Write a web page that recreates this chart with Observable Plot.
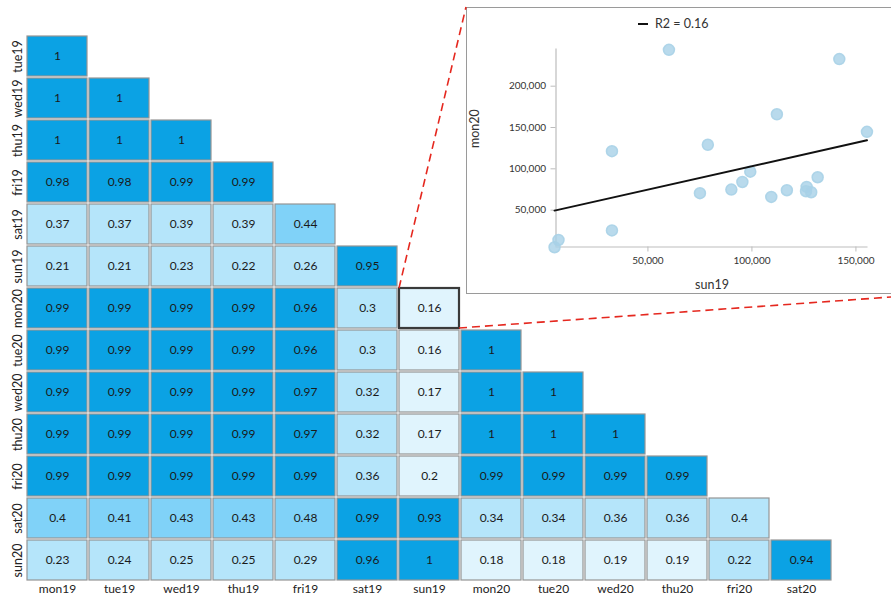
<!DOCTYPE html>
<html><head><meta charset="utf-8">
<script src="https://cdn.jsdelivr.net/npm/d3@7"></script>
<script src="https://cdn.jsdelivr.net/npm/@observablehq/plot@0.6"></script>
<style>
html,body{margin:0;padding:0;background:#fff;overflow:hidden;}
#wrap{position:relative;width:891px;height:599px;overflow:hidden;font-family:Lato,"DejaVu Sans",sans-serif;}
#wrap > svg{position:absolute;left:0;top:0;}
#inset{position:absolute;left:466px;top:7px;width:467px;height:287px;box-sizing:border-box;border:1.5px solid #9a9a9a;background:#fff;}
#inset svg{position:absolute;left:0;top:0;}
#legend{position:absolute;left:171px;top:7px;font-size:12.5px;color:#333;display:flex;align-items:center;line-height:17px;}
#legend .sw{display:inline-block;width:10px;height:2px;background:#111;margin-right:7px;}
svg.overlay{position:absolute;left:0;top:0;pointer-events:none;}
</style></head>
<body><div id="wrap"></div>
<script>
// ---- data ----
const cols = ["mon19","tue19","wed19","thu19","fri19","sat19","sun19","mon20","tue20","wed20","thu20","fri20","sat20"];
const rows = ["tue19","wed19","thu19","fri19","sat19","sun19","mon20","tue20","wed20","thu20","fri20","sat20","sun20"];
const values = [
  [1],
  [1, 1],
  [1, 1, 1],
  [0.98, 0.98, 0.99, 0.99],
  [0.37, 0.37, 0.39, 0.39, 0.44],
  [0.21, 0.21, 0.23, 0.22, 0.26, 0.95],
  [0.99, 0.99, 0.99, 0.99, 0.96, 0.3, 0.16],
  [0.99, 0.99, 0.99, 0.99, 0.96, 0.3, 0.16, 1],
  [0.99, 0.99, 0.99, 0.99, 0.97, 0.32, 0.17, 1, 1],
  [0.99, 0.99, 0.99, 0.99, 0.97, 0.32, 0.17, 1, 1, 1],
  [0.99, 0.99, 0.99, 0.99, 0.99, 0.36, 0.198, 0.99, 0.99, 0.99, 0.99],
  [0.402, 0.41, 0.43, 0.43, 0.48, 0.99, 0.93, 0.34, 0.34, 0.36, 0.36, 0.398],
  [0.23, 0.24, 0.25, 0.25, 0.29, 0.96, 1, 0.18, 0.18, 0.19, 0.19, 0.22, 0.94]
];
const colorThresholds = [0.2, 0.4, 0.6];
const colorRange = ["#e0f4fd", "#b5e5fa", "#80d2f8", "#0ba2e4"];
const selected = {col: "sun19", row: "mon20"};

// scatter for selected pair
const sun19 = [60100, 142000, 112000, 155300, 78800, 32700, 99200, 95400, 131600, 90100, 75000, 116800, 109300, 126300, 126000, 128500, 32700, 7000, 5100];
const mon20 = [244000, 232800, 166000, 144800, 129100, 121400, 96600, 84100, 89800, 74900, 70500, 74100, 66000, 78100, 72900, 71700, 25500, 13900, 5100];
const xTicks = [50000, 100000, 150000];
const yTicks = [50000, 100000, 150000, 200000];
const xDomain = [5800, 155800];
const yDomain = [5400, 245000];

// ---- build ----
const cells = [];
rows.forEach((r, i) => values[i].forEach((v, j) => cells.push({row: r, col: cols[j], v})));
const fmt = v => String(+v.toFixed(2));

const wrap = document.getElementById("wrap");
const W = 891, H = 599;

const main = Plot.plot({
  width: W, height: H,
  marginLeft: 24, marginRight: 58, marginTop: 33, marginBottom: 16,
  style: {fontFamily: "Lato, 'DejaVu Sans', sans-serif", fontSize: "12px", color: "#222", background: "transparent"},
  x: {type: "band", domain: cols, padding: 0, label: null},
  y: {type: "band", domain: rows, padding: 0, label: null},
  color: {type: "threshold", domain: colorThresholds, range: colorRange},
  marks: [
    Plot.cell(cells, {x: "col", y: "row", fill: "v", stroke: "#959595", strokeWidth: 1.2, inset: 1}),
    Plot.cell([selected], {x: "col", y: "row", fill: "none", stroke: "#3a3a3a", strokeWidth: 2.2, inset: 1}),
    Plot.text(cells, {x: "col", y: "row", text: d => fmt(d.v), fill: "#1a1a1a", fontSize: 12}),
    Plot.axisX({anchor: "bottom", tickSize: 0, tickPadding: 1, fontSize: 12, fill: "#222", label: null}),
    Plot.axisY({anchor: "left", tickSize: 0, tickPadding: 3, tickRotate: -90, fontSize: 12.5, fill: "#222", label: null})
  ]
});
wrap.appendChild(main);

// inset
const inset = document.createElement("div");
inset.id = "inset";
wrap.appendChild(inset);
const IW = 464, IH = 284;
const pts = sun19.map((x, i) => ({x, y: mon20[i]}));
const mx = d3.mean(sun19), my = d3.mean(mon20);
const sxy = d3.sum(pts, p => (p.x - mx) * (p.y - my));
const sxx = d3.sum(pts, p => (p.x - mx) ** 2);
const syy = d3.sum(pts, p => (p.y - my) ** 2);
const r2 = (sxy * sxy) / (sxx * syy);

const sc = Plot.plot({
  width: IW, height: IH,
  marginLeft: 88.5, marginRight: 63.5, marginTop: 40.5, marginBottom: 45.5,
  style: {fontFamily: "Lato, 'DejaVu Sans', sans-serif", fontSize: "10px", color: "#333", background: "transparent", overflow: "visible"},
  x: {domain: xDomain, label: null},
  y: {domain: yDomain, label: null},
  marks: [
    Plot.ruleX([xDomain[0]], {stroke: "#bdbdbd", strokeWidth: 1.2}),
    Plot.ruleY([yDomain[0]], {stroke: "#bdbdbd", strokeWidth: 1.2}),
    Plot.axisX({ticks: xTicks, tickFormat: d3.format(","), tickSize: 5, tickPadding: 5, stroke: "#bdbdbd", fill: "#333", fontSize: 10, label: null}),
    Plot.axisY({ticks: yTicks, tickFormat: d3.format(","), tickSize: 5, tickPadding: 5, stroke: "#bdbdbd", fill: "#333", fontSize: 10, label: null}),
    Plot.dot(pts, {x: "x", y: "y", r: 5.5, fill: "#a8d1e7", fillOpacity: 0.8, stroke: "#a8d1e7", strokeOpacity: 0.9}),
    Plot.linearRegressionY(pts, {x: "x", y: "y", stroke: "#111", strokeWidth: 2, ci: 0}),
    Plot.text(["sun19"], {frameAnchor: "bottom", dy: 38, fontSize: 12.5, fill: "#333", lineAnchor: "middle"}),
    Plot.text(["mon20"], {frameAnchor: "left", dx: -81, rotate: -90, fontSize: 12.5, fill: "#333", lineAnchor: "middle"})
  ]
});
inset.appendChild(sc);
const legend = document.createElement("div");
legend.id = "legend";
legend.innerHTML = `<span class="sw"></span><span>R2 = ${r2.toFixed(2)}</span>`;
inset.appendChild(legend);

// connector lines
const sx = main.scale("x"), sy = main.scale("y");
const cx0 = sx.apply(selected.col) + 1, cy0 = sy.apply(selected.row) + 1;
const cx1 = sx.apply(selected.col) + sx.bandwidth - 1, cy1 = sy.apply(selected.row) + sy.bandwidth - 1;
const box = {left: 466, top: 7, right: 466 + 467, bottom: 7 + 287};
const ov = d3.select(wrap).append("svg").attr("class", "overlay").attr("width", W).attr("height", H);
ov.selectAll("line").data([
  [cx0, cy0, box.left, box.top],
  [cx1, cy1, box.right, box.bottom]
]).join("line")
  .attr("x1", d => d[0]).attr("y1", d => d[1]).attr("x2", d => d[2]).attr("y2", d => d[3])
  .attr("stroke", "#e5281f").attr("stroke-width", 1.6).attr("stroke-dasharray", "8,5");
</script>
</body></html>
